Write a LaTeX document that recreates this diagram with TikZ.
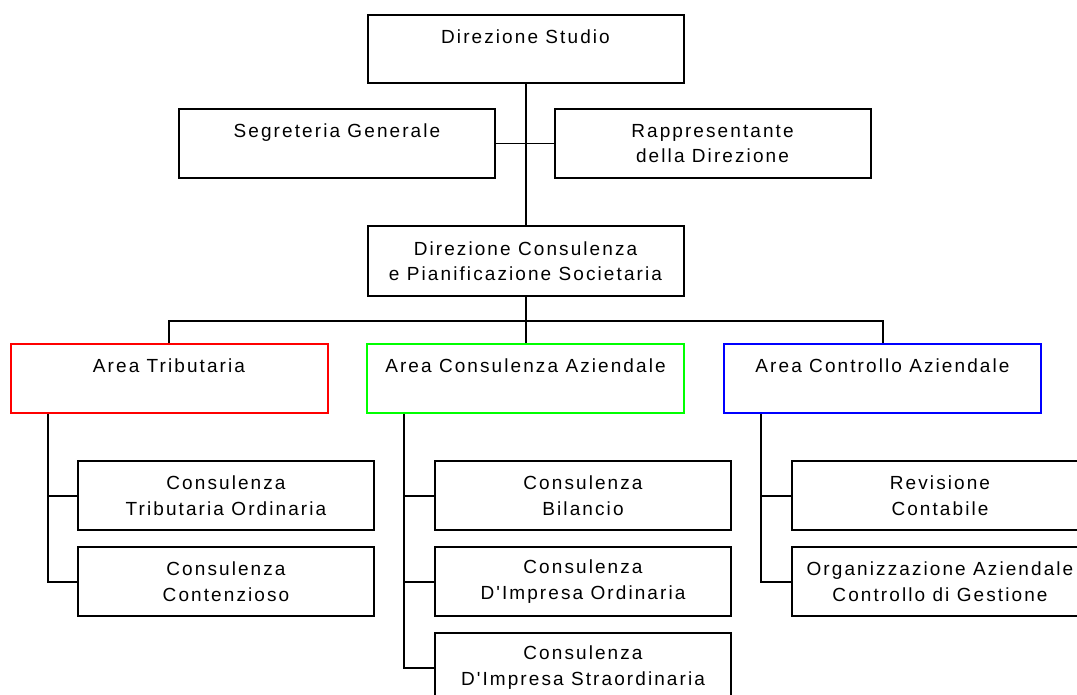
\documentclass[tikz,border=0pt]{standalone}
\usepackage{fontspec}
\setmainfont{Liberation Sans}[LetterSpace=11, Ligatures=TeXOff]
\usepackage{xcolor}
\usepackage{tikz}
\usetikzlibrary{positioning, calc}
\definecolor{AreaRed}{RGB}{255, 0, 0}
\definecolor{AreaGreen}{RGB}{0, 255, 0}
\definecolor{AreaBlue}{RGB}{0, 0, 255}

\tikzset{
  unitbox/.style={draw=black, fill=white, line width=2pt, minimum width=316pt,
    minimum height=69pt, inner sep=0pt, align=center,
    font=\fontsize{19}{25.5}\selectfont},
  subbox/.style={unitbox, minimum width=296pt},
  areabox/.style={unitbox, minimum width=317pt},
  link/.style={draw=black, line width=2pt},
  sidelink/.style={draw=black, line width=1.5pt}
}

\begin{document}
\begin{tikzpicture}[x=1pt, y=-1pt]
  \useasboundingbox (0,0) rectangle (1077,695);

  % top levels
  \node[unitbox, minimum height=68pt] (studio) at (525.5,49) {Direzione Studio\\\mbox{}};
  \node[unitbox] (segreteria) at (337,143.5) {Segreteria Generale\\\mbox{}};
  \node[unitbox] (rappresentante) at (712.5,143.5) {Rappresentante\\della Direzione};
  \node[unitbox, minimum height=70pt] (consulenza) at (525.5,261) {Direzione Consulenza\\e Pianificazione Societaria};

  % areas
  \node[areabox, draw=AreaRed] (tributaria) at (169,378.5) {Area Tributaria\\\mbox{}};
  \node[areabox, draw=AreaGreen] (aziendale) at (525.5,378.5) {Area Consulenza Aziendale\\\mbox{}};
  \node[areabox, draw=AreaBlue] (controllo) at (882.5,378.5) {Area Controllo Aziendale\\\mbox{}};

  % offices
  \node[subbox] (ordinaria) at (226,495.5) {Consulenza\\Tributaria Ordinaria};
  \node[subbox] (contenzioso) at (226,581.5) {Consulenza\\Contenzioso};
  \node[subbox] (bilancio) at (583,495.5) {Consulenza\\Bilancio};
  \node[subbox] (impresa) at (583,581.5) {Consulenza\\D'Impresa Ordinaria};
  \node[subbox] (straordinaria) at (583,667.5) {Consulenza\\D'Impresa Straordinaria};
  \node[subbox] (revisione) at (940,495.5) {Revisione\\Contabile};
  \node[subbox] (gestione) at (940,581.5) {Organizzazione Aziendale\\Controllo di Gestione};

  % connectors
  \draw[link] (studio.south) -- (consulenza.north);
  \draw[sidelink] (segreteria.east) -- (rappresentante.west);
  \coordinate (bus) at ($(consulenza.south)+(0,24)$);
  \draw[link] (consulenza.south) -- (aziendale.north);
  \draw[link] (tributaria.north) |- (bus) -| (controllo.north);
  \draw[link] ([xshift=38pt]tributaria.south west) |- (ordinaria.west);
  \draw[link] ([xshift=38pt]tributaria.south west) |- (contenzioso.west);
  \draw[link] ([xshift=38pt]aziendale.south west) |- (bilancio.west);
  \draw[link] ([xshift=38pt]aziendale.south west) |- (impresa.west);
  \draw[link] ([xshift=38pt]aziendale.south west) |- (straordinaria.west);
  \draw[link] ([xshift=38pt]controllo.south west) |- (revisione.west);
  \draw[link] ([xshift=38pt]controllo.south west) |- (gestione.west);
\end{tikzpicture}
\end{document}
